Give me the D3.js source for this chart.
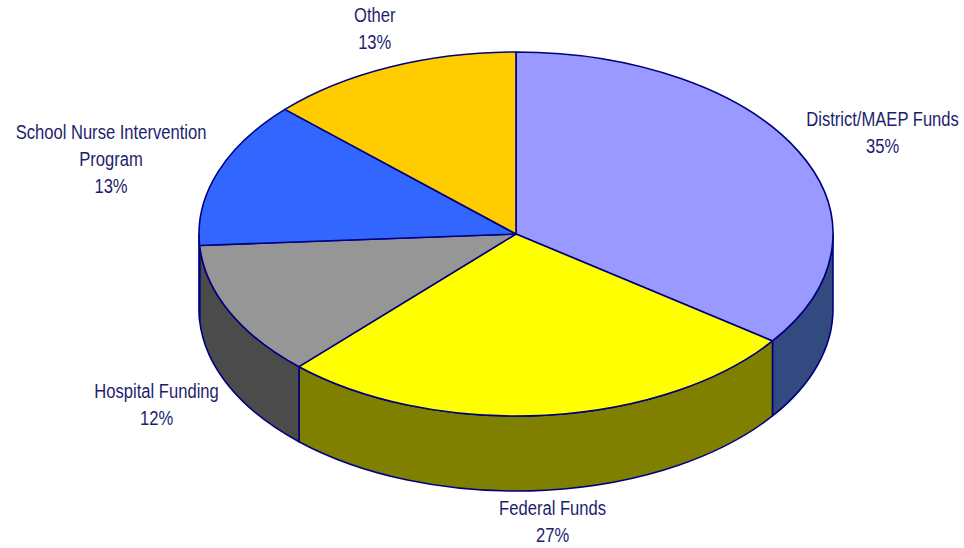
<!DOCTYPE html>
<html>
<head>
<meta charset="utf-8">
<script src="https://cdn.jsdelivr.net/npm/d3@7.9.0/dist/d3.min.js"></script>
<style>
  html, body { margin: 0; padding: 0; background: #fff; }
  svg { display: block; }
</style>
</head>
<body>
<div id="chart"></div>
<script>
/* data */
const categories = ['District/MAEP Funds', 'Federal Funds', 'Hospital Funding',
                    'School Nurse Intervention Program', 'Other'];
const shares     = [35, 27, 12, 13, 13];
const topColors  = ['#9999ff', '#ffff00', '#969696', '#3366ff', '#ffcc00'];
const sideColors = ['#334a80', '#808000', '#4b4b4b', '#1a3380', '#806600'];

const width = 964, height = 548;
const cx = 516, cy = 234, rx = 317, ry = 182, depth = 75;
const outline = '#000080', textColor = '#1e1e6e';
const hScale = 0.79, fontSize = 21, lineH = 27, capH = 15;

const svg = d3.select('#chart').append('svg')
  .attr('width', width).attr('height', height);

const arcs = d3.pie().sort(null).value(d => d)(shares);

// point on the (tilted) ellipse; angle 0 = 12 o'clock, clockwise
const pt = (a, dy = 0) => [cx + rx * Math.sin(a), cy - ry * Math.cos(a) + dy];
const large = (a0, a1) => (a1 - a0 > Math.PI ? 1 : 0);

/* sides – only the front half (90°..270°) shows */
const sideG = svg.append('g');
arcs.forEach((d, i) => {
  const s0 = Math.max(d.startAngle, Math.PI / 2);
  const s1 = Math.min(d.endAngle, 3 * Math.PI / 2);
  if (s1 <= s0) return;
  const [x0, y0] = pt(s0), [x1, y1] = pt(s1);
  const p = `M${x0},${y0} A${rx},${ry} 0 ${large(s0, s1)} 1 ${x1},${y1}` +
            ` L${x1},${y1 + depth} A${rx},${ry} 0 ${large(s0, s1)} 0 ${x0},${y0 + depth} Z`;
  sideG.append('path')
    .attr('d', p)
    .attr('fill', sideColors[i])
    .attr('stroke', outline)
    .attr('stroke-width', 1.6)
    .attr('stroke-linejoin', 'round');
});

/* tops */
const topG = svg.append('g');
topG.selectAll('path')
  .data(arcs)
  .join('path')
  .attr('d', d => {
    const [x0, y0] = pt(d.startAngle), [x1, y1] = pt(d.endAngle);
    return `M${cx},${cy} L${x0},${y0} A${rx},${ry} 0 ${large(d.startAngle, d.endAngle)} 1 ${x1},${y1} Z`;
  })
  .attr('fill', (d, i) => topColors[i])
  .attr('stroke', outline)
  .attr('stroke-width', 1.6)
  .attr('stroke-linejoin', 'round');

/* labels */
const labelG = svg.append('g')
  .attr('font-family', '"Liberation Sans", Arial, sans-serif')
  .attr('font-size', fontSize)
  .attr('fill', textColor);

const measurer = labelG.append('text').attr('visibility', 'hidden');
const textW = s => { measurer.text(s); return measurer.node().getComputedTextLength() * hScale; };

function wrap(s, maxW) {
  const words = s.split(' '), lines = [];
  let cur = '';
  words.forEach(w => {
    const t = cur ? cur + ' ' + w : w;
    if (cur && textW(t) > maxW) { lines.push(cur); cur = w; } else cur = t;
  });
  lines.push(cur);
  return lines;
}

const labelRx = rx + 18, labelRy = ry + 42;
arcs.forEach((d, i) => {
  const lines = wrap(categories[i], 200);
  lines.push(shares[i] + '%');
  const w = d3.max(lines, textW);
  const h = (lines.length - 1) * lineH + capH;
  const mid = (d.startAngle + d.endAngle) / 2;
  const s = Math.sin(mid), c = Math.cos(mid);
  const bx = cx + labelRx * s + (w / 2) * s;
  const by = cy - labelRy * c + (c < 0 ? depth : 0);
  let first = by - h / 2 + capH;
  // keep the block (with its descent) inside the picture
  const lastMax = height - 6;
  if (first + (lines.length - 1) * lineH > lastMax) first = lastMax - (lines.length - 1) * lineH;

  const g = labelG.append('g')
    .attr('transform', `translate(${bx},${first}) scale(${hScale},1)`);
  g.selectAll('text')
    .data(lines)
    .join('text')
    .attr('text-anchor', 'middle')
    .attr('y', (l, k) => k * lineH)
    .text(l => l);
});
measurer.remove();
</script>
</body>
</html>
